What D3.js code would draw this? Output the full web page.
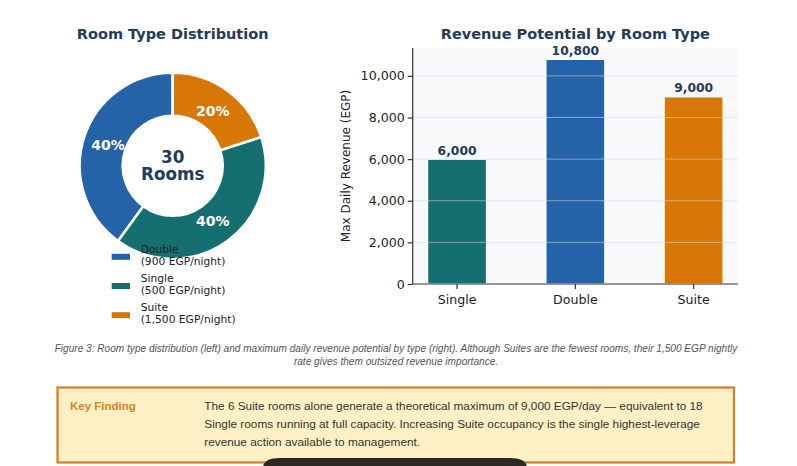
<!DOCTYPE html>
<html>
<head>
<meta charset="utf-8">
<script src="https://cdn.jsdelivr.net/npm/d3@7"></script>
<style>
  body { margin: 0; background: #fff; }
  svg { display: block; }
  .axis text { font-family: "DejaVu Sans", sans-serif; font-size: 12.6px; fill: #222; }
  .axis path, .axis line { stroke: #333; stroke-width: 1.2; }
</style>
</head>
<body>
<svg id="chart" width="797" height="466"></svg>
<script>
// data
let roomTypes = ['Double', 'Single', 'Suite'];
let roomCounts = [12, 12, 6];
let roomRates = ['900 EGP/night', '500 EGP/night', '1,500 EGP/night'];
let roomColors = ['#2563a9', '#156f70', '#d97706'];

let revCategories = ['Single', 'Double', 'Suite'];
let revValues = [6000, 10800, 9000];
let revColors = ['#156f70', '#2563a9', '#d97706'];
let revTicks = [0, 2000, 4000, 6000, 8000, 10000];

let captionLines = [
  'Figure 3: Room type distribution (left) and maximum daily revenue potential by type (right). Although Suites are the fewest rooms, their 1,500 EGP nightly',
  'rate gives them outsized revenue importance.'
];
let findingLines = [
  'The 6 Suite rooms alone generate a theoretical maximum of 9,000 EGP/day \u2014 equivalent to 18',
  'Single rooms running at full capacity. Increasing Suite occupancy is the single highest-leverage',
  'revenue action available to management.'
];

let svg = d3.select('#chart');
let titleColor = '#243b55';

// ---------- donut ----------
let cx = 172.7, cy = 165.7, outerR = 93, innerR = 50;
let donut = svg.append('g').attr('transform', 'translate(' + cx + ',' + cy + ')');

let pie = d3.pie().sort(null).startAngle(0).endAngle(-2 * Math.PI);
let arcs = pie(roomCounts);
let arc = d3.arc().innerRadius(innerR).outerRadius(outerR);
let labelArc = d3.arc().innerRadius(68).outerRadius(68);
let total = d3.sum(roomCounts);

donut.selectAll('path.slice')
  .data(arcs)
  .enter()
  .append('path')
  .attr('class', 'slice')
  .attr('d', arc)
  .attr('fill', (d, i) => roomColors[i])
  .attr('stroke', '#fff')
  .attr('stroke-width', 2.5);

donut.selectAll('text.pct')
  .data(arcs)
  .enter()
  .append('text')
  .attr('transform', d => 'translate(' + labelArc.centroid(d) + ')')
  .attr('text-anchor', 'middle')
  .attr('dy', '0.36em')
  .attr('font-family', 'DejaVu Sans, sans-serif')
  .attr('font-weight', 'bold')
  .attr('font-size', 14)
  .attr('fill', '#fff')
  .text(d => Math.round(d.data / total * 100) + '%');

let centerText = donut.append('text')
  .attr('text-anchor', 'middle')
  .attr('font-family', 'DejaVu Sans, sans-serif')
  .attr('font-weight', 'bold')
  .attr('font-size', 16.8)
  .attr('fill', titleColor);
centerText.append('tspan').attr('x', 0).attr('y', -2.5).text(total);
centerText.append('tspan').attr('x', 0).attr('y', 14.5).text('Rooms');

svg.append('text')
  .attr('x', cx)
  .attr('y', 39)
  .attr('text-anchor', 'middle')
  .attr('font-family', 'DejaVu Sans, sans-serif')
  .attr('font-weight', 'bold')
  .attr('font-size', 14.5)
  .attr('fill', titleColor)
  .text('Room Type Distribution');

// legend
let legend = svg.append('g').attr('transform', 'translate(111.7, 248)');
let legendItem = legend.selectAll('g')
  .data(roomTypes)
  .enter()
  .append('g')
  .attr('transform', (d, i) => 'translate(0,' + (i * 29.2) + ')');
legendItem.append('rect')
  .attr('y', 5.8)
  .attr('width', 18.3)
  .attr('height', 6)
  .attr('fill', (d, i) => roomColors[i]);
let legendText = legendItem.append('text')
  .attr('font-family', 'DejaVu Sans, sans-serif')
  .attr('font-size', 10.7)
  .attr('fill', '#222');
legendText.append('tspan').attr('x', 29).attr('y', 4.7).text(d => d);
legendText.append('tspan').attr('x', 29).attr('y', 17).text((d, i) => '(' + roomRates[i] + ')');

// ---------- bars ----------
let plotL = 412.7, plotR = 738, plotT = 48, plotB = 284;
let bars = svg.append('g');

let x = d3.scaleBand().domain(revCategories).range([plotL, plotR]).paddingInner(0.5).paddingOuter(0.125);
let y = d3.scaleLinear().domain([0, 11340]).range([plotB, plotT]);

bars.append('rect')
  .attr('x', plotL)
  .attr('y', plotT)
  .attr('width', plotR - plotL)
  .attr('height', plotB - plotT)
  .attr('fill', '#f8f9fb');

bars.selectAll('.bar')
  .data(revValues)
  .enter()
  .append('rect')
  .attr('class', 'bar')
  .attr('x', (d, i) => x(revCategories[i]))
  .attr('y', d => y(d))
  .attr('width', x.bandwidth())
  .attr('height', d => plotB - y(d))
  .attr('fill', (d, i) => revColors[i])
  .attr('stroke', '#fff')
  .attr('stroke-width', 1.5);

// grid (drawn above the bars)
bars.selectAll('.grid')
  .data(revTicks.slice(1))
  .enter()
  .append('line')
  .attr('x1', plotL)
  .attr('x2', plotR)
  .attr('y1', d => y(d))
  .attr('y2', d => y(d))
  .attr('stroke', '#d3d8de')
  .attr('stroke-opacity', 0.55)
  .attr('stroke-width', 1);

bars.selectAll('.val')
  .data(revValues)
  .enter()
  .append('text')
  .attr('x', (d, i) => x(revCategories[i]) + x.bandwidth() / 2)
  .attr('y', d => y(d) - 4.5)
  .attr('text-anchor', 'middle')
  .attr('font-family', 'DejaVu Sans, sans-serif')
  .attr('font-weight', 'bold')
  .attr('font-size', 12.3)
  .attr('fill', titleColor)
  .text(d => d3.format(',')(d));

bars.append('g').attr('class', 'axis')
  .attr('transform', 'translate(' + plotL + ',0)')
  .call(d3.axisLeft(y).tickValues(revTicks).tickFormat(d3.format(',')).tickSize(5).tickPadding(3))
  .call(g => g.select('.domain').attr('d', 'M0,' + plotT + 'V' + plotB));

bars.append('g').attr('class', 'axis')
  .attr('transform', 'translate(0,' + plotB + ')')
  .call(d3.axisBottom(x).tickSize(5).tickPadding(6))
  .call(g => g.select('.domain').attr('d', 'M' + plotL + ',0H' + plotR));

bars.append('text')
  .attr('transform', 'translate(350,' + ((plotT + plotB) / 2) + ') rotate(-90)')
  .attr('text-anchor', 'middle')
  .attr('font-family', 'DejaVu Sans, sans-serif')
  .attr('font-size', 12)
  .attr('fill', '#222')
  .text('Max Daily Revenue (EGP)');

svg.append('text')
  .attr('x', (plotL + plotR) / 2)
  .attr('y', 39)
  .attr('text-anchor', 'middle')
  .attr('font-family', 'DejaVu Sans, sans-serif')
  .attr('font-weight', 'bold')
  .attr('font-size', 14.5)
  .attr('fill', titleColor)
  .text('Revenue Potential by Room Type');

// ---------- caption ----------
svg.selectAll('.caption')
  .data(captionLines)
  .enter()
  .append('text')
  .attr('x', 396)
  .attr('y', (d, i) => 352 + i * 12.7)
  .attr('text-anchor', 'middle')
  .attr('font-family', 'Liberation Sans, Arial, sans-serif')
  .attr('font-style', 'italic')
  .attr('font-size', 10.1)
  .attr('fill', '#555')
  .text(d => d);

// ---------- key finding box ----------
svg.append('rect')
  .attr('x', 57.5)
  .attr('y', 387.5)
  .attr('width', 676.5)
  .attr('height', 75)
  .attr('fill', '#fdf0c4')
  .attr('stroke', '#cf7f27')
  .attr('stroke-width', 2.2);

svg.append('text')
  .attr('x', 70)
  .attr('y', 410)
  .attr('font-family', 'Liberation Sans, Arial, sans-serif')
  .attr('font-weight', 'bold')
  .attr('font-size', 11.5)
  .attr('fill', '#d4862a')
  .text('Key Finding');

svg.selectAll('.finding')
  .data(findingLines)
  .enter()
  .append('text')
  .attr('x', 204.3)
  .attr('y', (d, i) => 410 + i * 18)
  .attr('font-family', 'Liberation Sans, Arial, sans-serif')
  .attr('font-size', 11.8)
  .attr('fill', '#333')
  .text(d => d);

// dark pill at the bottom edge
svg.append('path')
  .attr('d', 'M263,466 V468 Q263,458 280,458 H510 Q527,458 527,468 V466 Z')
  .attr('fill', '#2b2824');
</script>
</body>
</html>
